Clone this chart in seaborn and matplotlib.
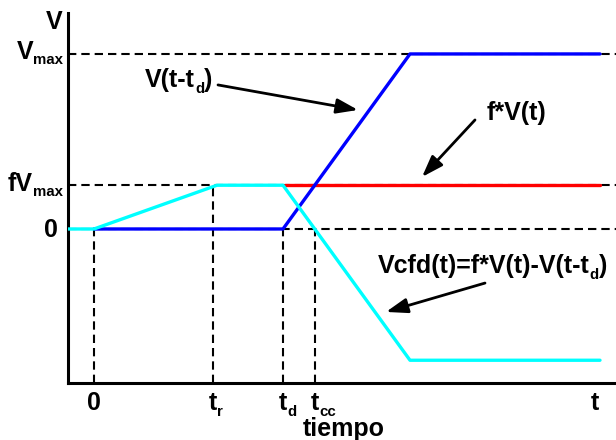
import matplotlib
matplotlib.use("Agg")
import matplotlib.pyplot as plt
import seaborn as sns
import pandas as pd

sns.set_style("white")
plt.rcParams["font.family"] = ["Liberation Sans", "DejaVu Sans"]
plt.rcParams["text.color"] = "black"

# Signal vertices: time in arbitrary units, voltage normalised to Vmax
t_delayed = [0.0, 18.9, 31.6, 50.6]          # V(t - td)
v_delayed = [0.0, 0.0, 1.0, 1.0]
t_scaled = [19.1, 50.6]                       # f*V(t)
v_scaled = [0.25, 0.25]
t_cfd = [-2.6, 0.0, 12.3, 18.9, 31.6, 50.6]   # Vcfd(t) = f*V(t) - V(t - td)
v_cfd = [0.0, 0.0, 0.25, 0.25, -0.75, -0.75]

# Reference levels and instants
y_levels = [1.0, 0.25, 0.0]
y_tick_labels = [("V", "max"), ("fV", "max"), ("0", "")]
t_marks = [0.0, 11.9, 18.9, 22.1]
t_mark_tops = [0.0, 0.25, 0.0, 0.0]
x_tick_labels = [("0", ""), ("t", "r"), ("t", "d"), ("t", "cc")]

BLUE, RED, CYAN = "#0000ff", "#ff0000", "#00ffff"
FS = 18
SUB = 0.6

fig = plt.figure(figsize=(6.16, 4.4), dpi=100)
ax = fig.add_axes([67.5 / 616, 57 / 440, (616 - 67.5) / 616, (427 - 57) / 440])
ax.set_xlim(-2.65, 52.2)
ax.set_ylim(-0.88, 1.234)

# Guide lines
dash = (0, (4, 2.4))
for lvl in y_levels:
    ax.axhline(lvl, color="black", lw=1.5, ls=dash, zorder=1)
for tm, top in zip(t_marks, t_mark_tops):
    ax.vlines(tm, -0.88, top, color="black", lw=1.5, ls=dash, zorder=1)

# Signals
sns.lineplot(data=pd.DataFrame({"t": t_scaled, "v": v_scaled}), x="t", y="v",
             color=RED, lw=2.4, estimator=None, sort=False, ax=ax, zorder=2)
sns.lineplot(data=pd.DataFrame({"t": t_delayed, "v": v_delayed}), x="t", y="v",
             color=BLUE, lw=2.4, estimator=None, sort=False, ax=ax, zorder=3)
sns.lineplot(data=pd.DataFrame({"t": t_cfd, "v": v_cfd}), x="t", y="v",
             color=CYAN, lw=2.4, estimator=None, sort=False, ax=ax, zorder=4)

ax.set_xticks([])
ax.set_yticks([])
ax.set_xlabel("")
ax.set_ylabel("")
for side in ("top", "right"):
    ax.spines[side].set_visible(False)
for side in ("left", "bottom"):
    ax.spines[side].set_color("black")
    ax.spines[side].set_linewidth(2.2)

renderer = fig.canvas.get_renderer()


def text_width(s, size):
    t = fig.text(0, 0, s, fontsize=size, fontweight="bold")
    w = t.get_window_extent(renderer).width
    t.remove()
    return w


def rich(x, y, main, sub="", tail="", coords="data", anchor="left",
         dx=0.0, dy=0.0, sub_drop=6.0):
    """Bold label with an optional subscript, laid out piece by piece."""
    pieces = [(main, FS, 0.0)]
    if sub:
        pieces.append((sub, FS * SUB, -sub_drop))
    if tail:
        pieces.append((tail, FS, 0.0))
    widths = [text_width(s, size) for s, size, _ in pieces]
    total = sum(widths)
    x0 = {"left": 0.0, "right": -total, "center": -total / 2,
          "first": -widths[0] / 2}[anchor] + dx
    for (s, size, d), w in zip(pieces, widths):
        ax.annotate(s, xy=(x, y), xycoords=coords, xytext=(x0, dy + d),
                    textcoords="offset pixels", ha="left", va="baseline",
                    fontsize=size, fontweight="bold", color="black",
                    annotation_clip=False)
        x0 += w


# Axis labels
ytr = ax.get_yaxis_transform()
xtr = ax.get_xaxis_transform()
rich(0, 1, "V", coords="axes fraction", anchor="center", dx=-13, dy=-16)
for lvl, (m, s) in zip(y_levels, y_tick_labels):
    if s:
        rich(0, lvl, m, s, coords=ytr, anchor="right", dx=-4.5, dy=-5.5, sub_drop=5)
    else:
        rich(0, lvl, m, coords=ytr, anchor="right", dx=-9.5, dy=-8)
for tm, (m, s) in zip(t_marks, x_tick_labels):
    rich(tm, 0, m, s, coords=xtr, anchor="first", dy=-27, sub_drop=6)
rich(0.962, 0, "t", coords="axes fraction", anchor="center", dy=-27)
rich(0.504, 0, "tiempo", coords="axes fraction", anchor="center", dy=-53)

# Curve annotations
rich(5.1, 0.811, "V(t-t", "d", ")")
rich(39.3, 0.623, "f*V(t)")
rich(28.4, -0.251, "Vcfd(t)=f*V(t)-V(t-t", "d", ")")

arrow = dict(arrowstyle="-|>,head_length=1.3,head_width=0.45", mutation_scale=10,
             lw=2, color="black", shrinkA=0, shrinkB=0)
ax.annotate("", xy=(26.4, 0.68), xytext=(12.4, 0.823), arrowprops=arrow)
ax.annotate("", xy=(32.8, 0.297), xytext=(38.1, 0.623), arrowprops=arrow)
ax.annotate("", xy=(29.2, -0.474), xytext=(39.1, -0.309), arrowprops=arrow)

fig.savefig("out.png", dpi=100)
